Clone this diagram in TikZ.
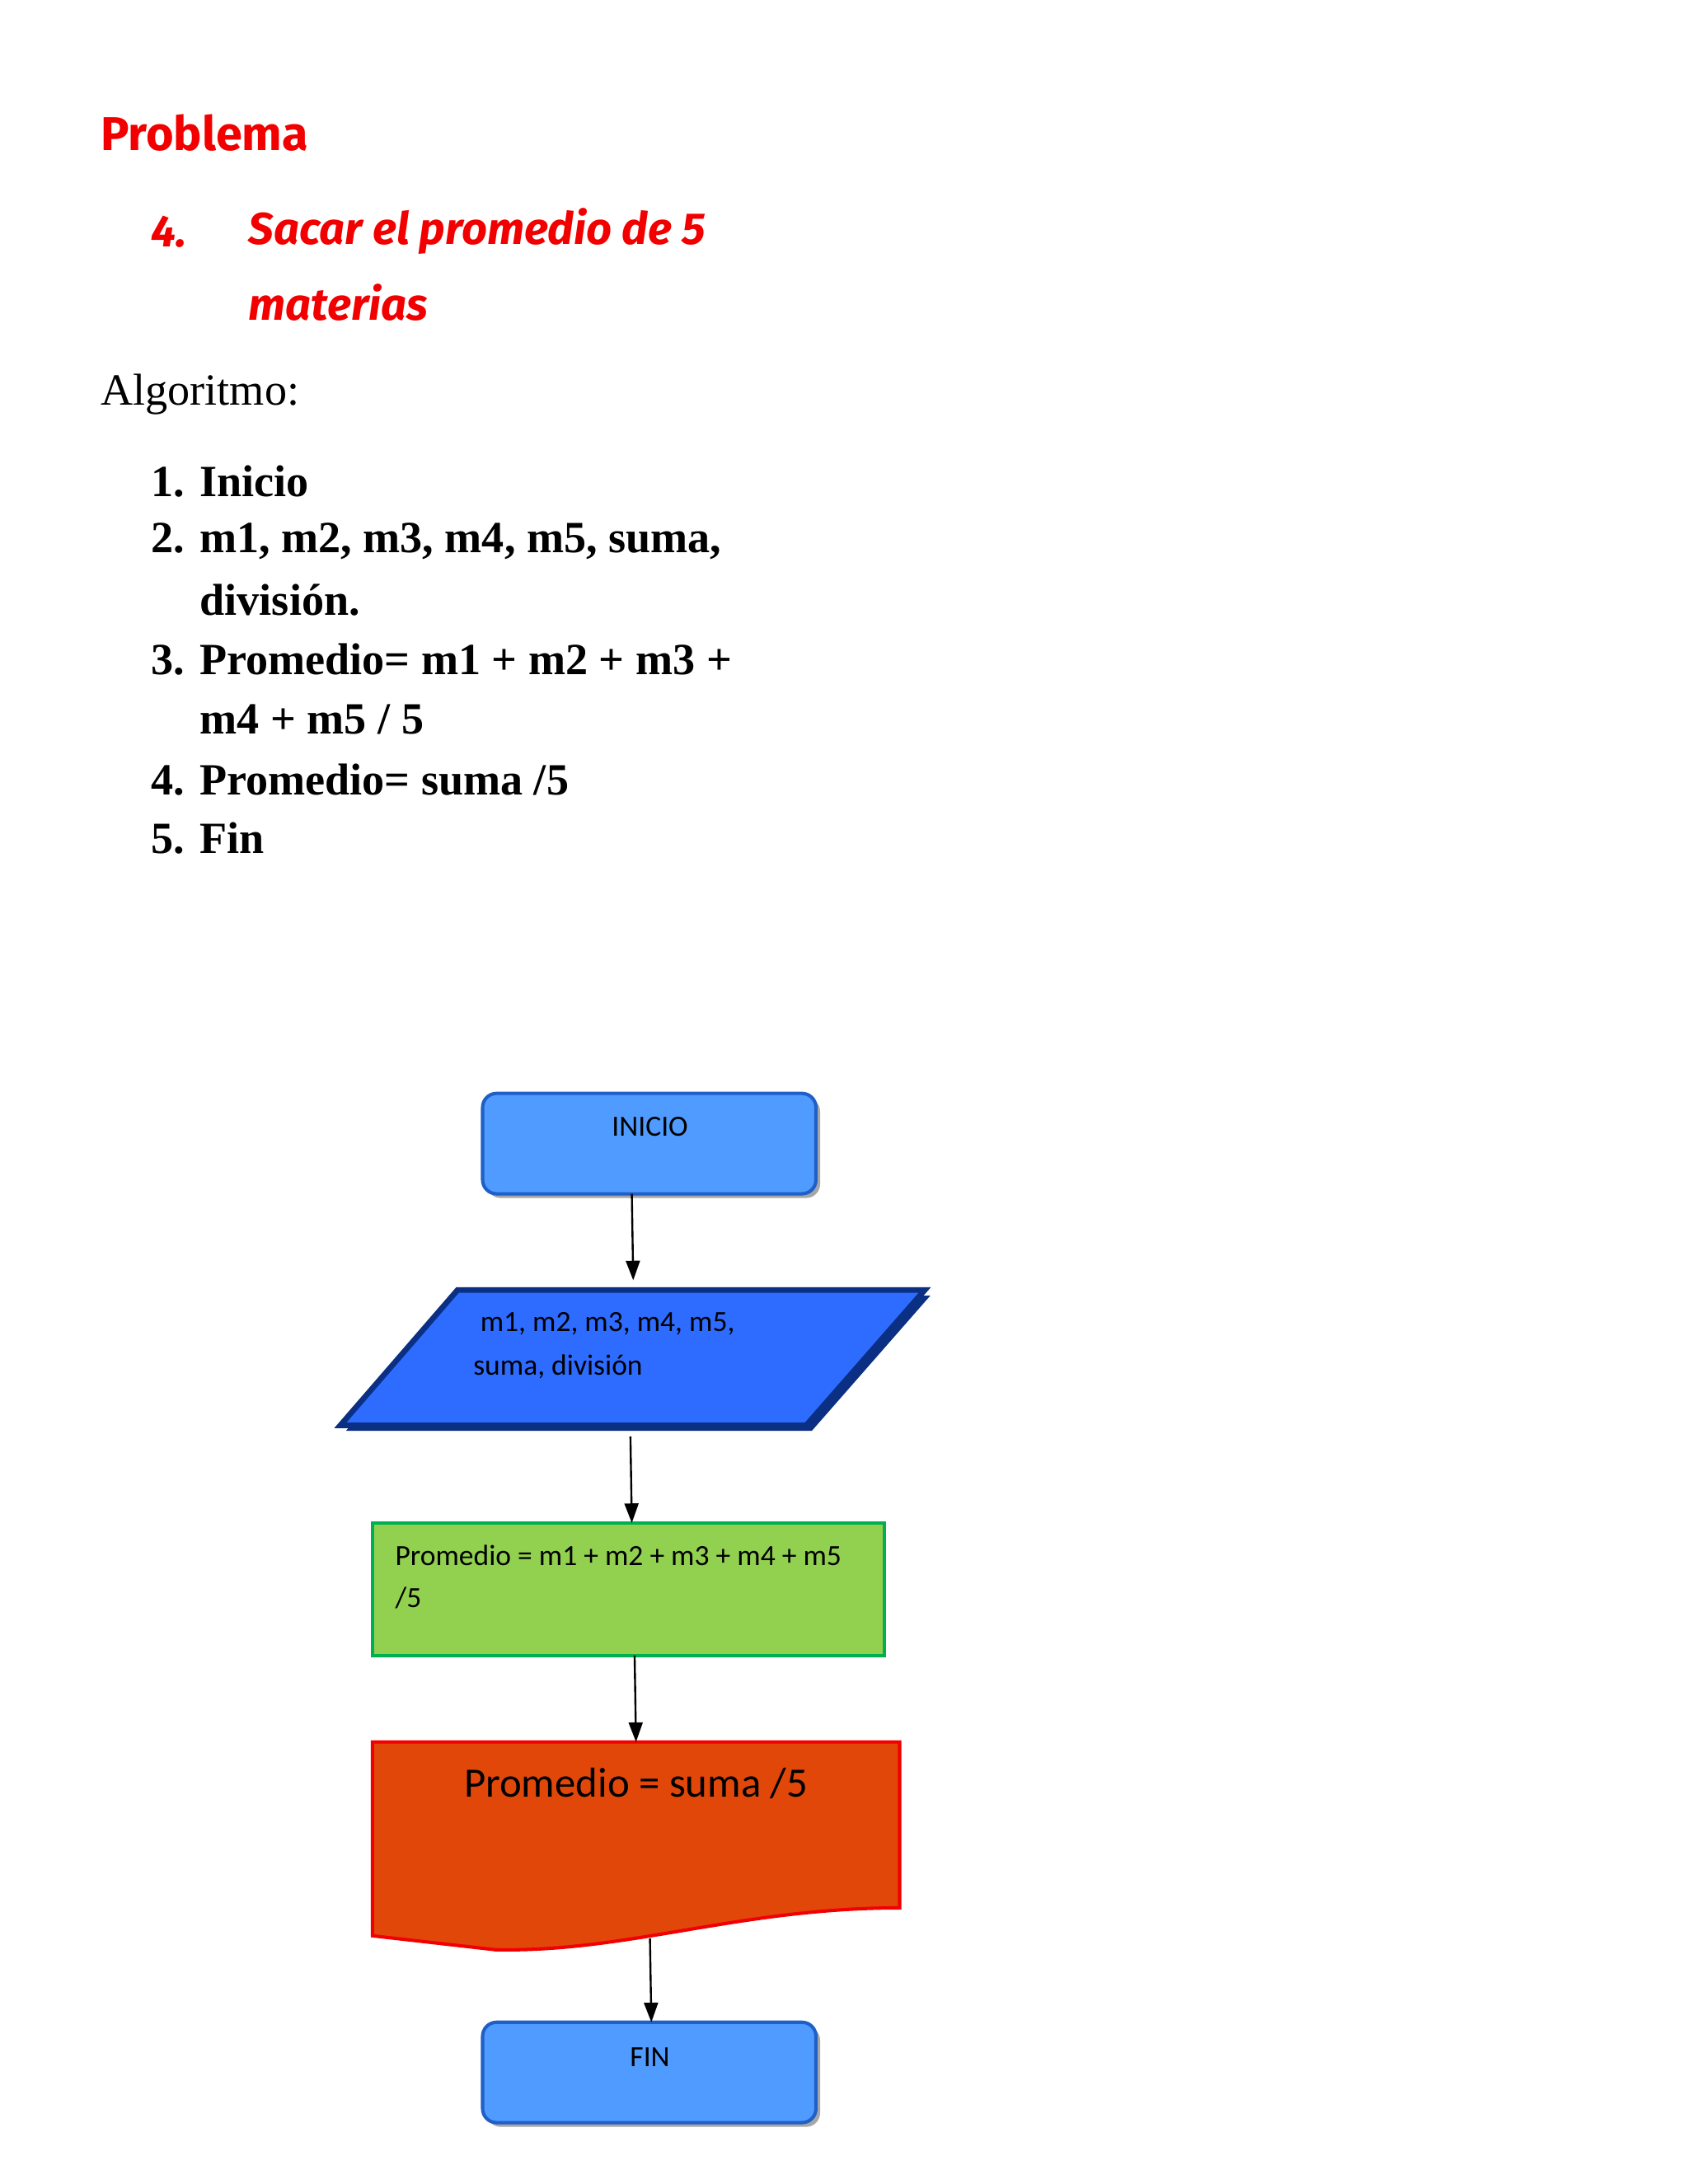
\documentclass[tikz,border=0pt]{standalone}
\usepackage{fontspec}
\setmainfont{Liberation Serif}
\newfontfamily\carlitofont{Carlito}
\newfontfamily\headfont{Fira Sans}
\usetikzlibrary{arrows.meta}
\definecolor{red1}{HTML}{F20000}
\definecolor{boxblue}{HTML}{4F9BFF}
\definecolor{boxedge}{HTML}{1F5FC8}
\definecolor{parfill}{HTML}{2E6BFF}
\definecolor{paredge}{HTML}{0B2F82}
\definecolor{grn}{HTML}{92D050}
\definecolor{grnedge}{HTML}{00B050}
\definecolor{org}{HTML}{E2470A}
\tikzset{
 arr/.style={-{Triangle[length=7pt,width=5pt]},line width=0.7pt},
 txt/.style={anchor=west,inner sep=0pt},
 rbox/.style={draw=boxedge,fill=boxblue,line width=1.2pt,rounded corners=5pt},
 shadowbox/.style={fill=black!35,rounded corners=5pt}
}
\begin{document}
\begin{tikzpicture}[x=0.5pt,y=-0.5pt]
\useasboundingbox[fill=white] (0,0) rectangle (1210,1566);
% headings
\node[txt,text=red1,font=\headfont\bfseries\fontsize{17}{20}\selectfont] (prob) at (72,95) {Problema};
\node[txt,text=red1,font=\headfont\bfseries\itshape\fontsize{16}{20}\selectfont] (n4) at (108,166) {4.};
\node[txt,text=red1,font=\headfont\bfseries\itshape\fontsize{16}{20}\selectfont] (s1) at (178,166) {Sacar el promedio de 5};
\node[txt,text=red1,font=\headfont\bfseries\itshape\fontsize{16}{20}\selectfont] (s2) at (178,217) {materias};
\node[txt,font=\fontsize{16}{20}\selectfont] (alg) at (72,283) {Algoritmo:};
\begin{scope}[every node/.style={txt,font=\bfseries\fontsize{16}{20}\selectfont}]
\node (l1) at (108,345) {1. Inicio};
\node (l2) at (108,388) {2. m1, m2, m3, m4, m5, suma,};
\node (l2b) at (143,430) {división.};
\node (l3) at (108,473) {3. Promedio= m1 + m2 + m3 +};
\node (l3b) at (143,516) {m4 + m5 / 5};
\node (l4) at (108,559) {4. Promedio= suma /5};
\node (l5) at (108,601) {5. Fin};
\end{scope}
% INICIO
\fill[shadowbox] (349,787) rectangle (588,859);
\draw[rbox] (346,784) rectangle (585,856);
\node[font=\carlitofont\fontsize{10.5}{12}\selectfont] (ini) at (466,808) {INICIO};
\coordinate (iniB) at (453,856);
% parallelogram
\fill[paredge] (248,1026) -- (332,929) -- (667,929) -- (582,1026) -- cycle;
\draw[draw=paredge,fill=parfill,line width=2pt] (328,925) -- (663,925) -- (578,1022) -- (244,1022) -- cycle;
\node[txt,font=\carlitofont\fontsize{10.5}{12}\selectfont] (p1) at (344,949) {m1, m2, m3, m4, m5,};
\node[txt,font=\carlitofont\fontsize{10.5}{12}\selectfont] (p2) at (339,980) {suma, división};
\coordinate (parT) at (454,918);
\coordinate (parB) at (452,1030);
% green
\draw[draw=grnedge,fill=grn,line width=1.2pt] (267,1092) rectangle (634,1187);
\node[txt,font=\carlitofont\fontsize{10.5}{12}\selectfont] (g1) at (283,1115) {Promedio = m1 + m2 + m3 + m4 + m5};
\node[txt,font=\carlitofont\fontsize{10.5}{12}\selectfont] (g2) at (283,1146) {/5};
\coordinate (gT) at (453,1092);
\coordinate (gB) at (455,1187);
% document
\draw[draw=red1,fill=org,line width=1.2pt] (267,1249) -- (645,1249) -- (645,1368)
  .. controls (530,1368) and (450,1400) .. (355,1398) -- (267,1388) -- cycle;
\node[font=\carlitofont\fontsize{15}{18}\selectfont] (d) at (456,1279) {Promedio = suma /5};
\coordinate (dT) at (456,1249);
\coordinate (dB) at (466,1390);
% FIN
\fill[shadowbox] (349,1453) rectangle (588,1525);
\draw[rbox] (346,1450) rectangle (585,1522);
\node[font=\carlitofont\fontsize{10.5}{12}\selectfont] (fin) at (466,1475) {FIN};
\coordinate (finT) at (467,1450);
% arrows
\draw[arr] (iniB) -- (parT);
\draw[arr] (parB) -- (gT);
\draw[arr] (gB) -- (dT);
\draw[arr] (dB) -- (finT);
\end{tikzpicture}
\end{document}
